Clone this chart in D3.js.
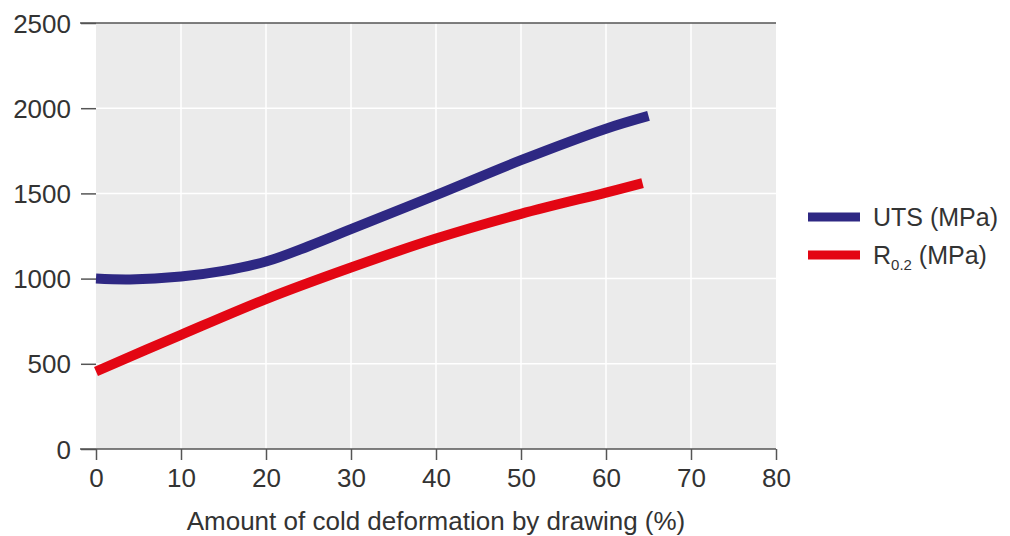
<!DOCTYPE html>
<html><head><meta charset="utf-8">
<script src="https://cdn.jsdelivr.net/npm/d3@7"></script>
<style>body{margin:0;background:#fff;} svg{display:block;} text{font-family:"Liberation Sans",Arial,sans-serif;fill:#333;}</style>
</head><body>
<svg id="c" width="1010" height="536"></svg>
<script>
const utsX = [0, 4, 10, 15, 20, 25, 30, 40, 50, 60, 65];
const utsY = [1000, 995, 1012, 1045, 1100, 1190, 1290, 1490, 1695, 1880, 1955];
const rpX = [0, 10, 20, 30, 40, 50, 60, 64.3];
const rpY = [455, 670, 880, 1065, 1235, 1380, 1505, 1560];
const xTicks = [0, 10, 20, 30, 40, 50, 60, 70, 80];
const yTicks = [0, 500, 1000, 1500, 2000, 2500];
const seriesNames = ["UTS (MPa)", "R0.2 (MPa)"];
const colors = ["#2e2883", "#e30613"];

const svg = d3.select("#c");
const L = 96, R = 776, T = 23, B = 449;
const x = d3.scaleLinear().domain([0, 80]).range([L, R]);
const y = d3.scaleLinear().domain([0, 2500]).range([B, T]);

svg.append("rect").attr("x", L).attr("y", T).attr("width", R - L).attr("height", B - T).attr("fill", "#ebebeb");
svg.append("g").selectAll("line").data(xTicks.slice(1, -1)).join("line")
  .attr("x1", d => x(d)).attr("x2", d => x(d)).attr("y1", T).attr("y2", B)
  .attr("stroke", "#fff").attr("stroke-width", 1.5);
svg.append("g").selectAll("line").data(yTicks.slice(1, -1)).join("line")
  .attr("x1", L).attr("x2", R).attr("y1", d => y(d)).attr("y2", d => y(d))
  .attr("stroke", "#fff").attr("stroke-width", 1.5);

// axes
const ya = svg.append("g").attr("transform", `translate(${L},0)`)
  .call(d3.axisLeft(y).tickValues(yTicks).tickSize(15).tickPadding(10).tickFormat(d3.format("d")));
ya.select(".domain").remove();
ya.selectAll("line").attr("stroke", "#555").attr("stroke-width", 1.5);
ya.selectAll("text").attr("font-size", 26).attr("dy", "0.35em").style("font-family", "Liberation Sans");
const xa = svg.append("g").attr("transform", `translate(0,${B})`)
  .call(d3.axisBottom(x).tickValues(xTicks).tickSize(11).tickPadding(8).tickFormat(d3.format("d")));
xa.select(".domain").remove();
xa.selectAll("line").attr("stroke", "#555").attr("stroke-width", 1.5);
xa.selectAll("text").attr("font-size", 26).attr("dy", "0.72em").style("font-family", "Liberation Sans");
svg.append("line").attr("x1", 80).attr("x2", R).attr("y1", y(2500)).attr("y2", y(2500)).attr("stroke", "#555").attr("stroke-width", 1.5);
svg.append("line").attr("x1", 80).attr("x2", R).attr("y1", B).attr("y2", B).attr("stroke", "#555").attr("stroke-width", 1.5);

svg.append("text").attr("x", 436).attr("y", 530).attr("text-anchor", "middle")
  .attr("font-size", 26).text("Amount of cold deformation by drawing (%)");

const line = d3.line().x(d => x(d[0])).y(d => y(d[1])).curve(d3.curveCatmullRom.alpha(0.5));
const data = [d3.zip(utsX, utsY), d3.zip(rpX, rpY)];
data.forEach((d, i) => {
  svg.append("path").datum(d).attr("d", line).attr("fill", "none")
    .attr("stroke", colors[i]).attr("stroke-width", 10).attr("stroke-linecap", "butt");
});

// legend
const lg = svg.append("g");
[0, 1].forEach(i => {
  const yy = 217 + i * 38;
  lg.append("rect").attr("x", 808).attr("y", yy - 4.5).attr("width", 52).attr("height", 9).attr("fill", colors[i]);
});
lg.append("text").attr("x", 873).attr("y", 226).attr("font-size", 25).text(seriesNames[0]);
const t2 = lg.append("text").attr("x", 873).attr("y", 264).attr("font-size", 25);
t2.append("tspan").text("R");
t2.append("tspan").attr("font-size", 15).attr("dy", 6).text("0.2");
t2.append("tspan").attr("dy", -6).text(" (MPa)");
</script>
</body></html>
